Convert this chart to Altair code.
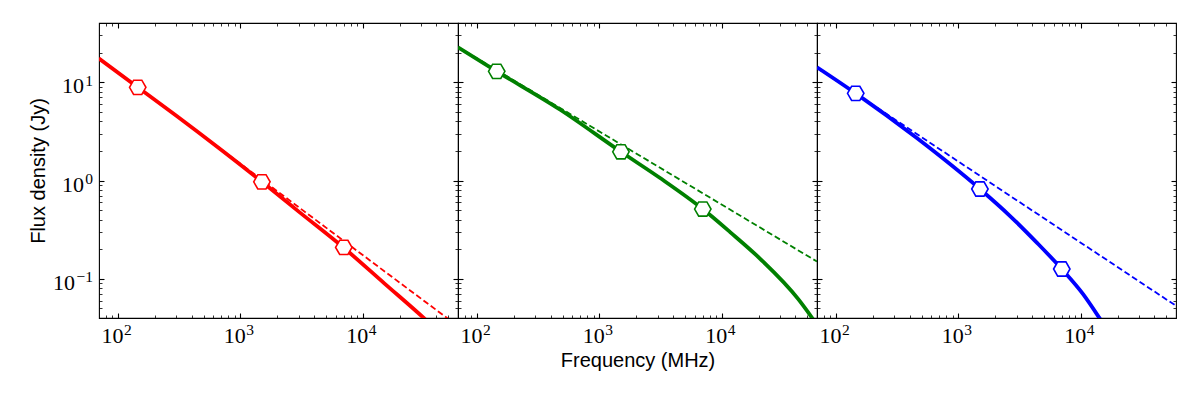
import altair as alt
import pandas as pd

# ---------------- data ----------------
X_DOMAIN = [70, 60000]
Y_DOMAIN = [0.04, 40]

XTICK_MAJOR = [100, 1000, 10000]
XTICK_EXPONENTS = ["2", "3", "4"]
XTICK_MINOR = [80, 90, 200, 300, 400, 500, 600, 700, 800, 900,
               2000, 3000, 4000, 5000, 6000, 7000, 8000, 9000,
               20000, 30000, 40000, 50000]
YTICK_MAJOR = [0.1, 1, 10]
YTICK_EXPONENTS = ["−1", "0", "1"]
YTICK_MINOR = [0.05, 0.06, 0.07, 0.08, 0.09,
               0.2, 0.3, 0.4, 0.5, 0.6, 0.7, 0.8, 0.9,
               2, 3, 4, 5, 6, 7, 8, 9, 20, 30]
TICK_BASE = "10"

FREQ_OBS = [145, 1500, 7000]
FLUX_OBS_RED = [8.87, 0.97, 0.209]
FLUX_OBS_GREEN = [12.9, 1.96, 0.513]
FLUX_OBS_BLUE = [7.7, 0.82, 0.126]

FREQ_PL = [70, 60000]
FLUX_PL_RED = [17.6, 0.033]
FLUX_PL_GREEN = [22.8, 0.150]
FLUX_PL_BLUE = [14.0, 0.0532]

FREQ_FIT_RED = [70, 145, 300, 700, 1500, 3000, 7000, 15000, 31500, 45000]
FLUX_FIT_RED = [17.4, 8.87, 4.55, 2.04, 0.97, 0.483, 0.207, 0.090, 0.040, 0.0265]
FREQ_FIT_GREEN = [70, 145, 479, 1500, 3135, 7000, 11700, 20600, 42200, 54800, 60000]
FLUX_FIT_GREEN = [22.6, 12.9, 5.25, 1.96, 1.06, 0.513, 0.299, 0.160, 0.0622, 0.040, 0.034]
FREQ_FIT_BLUE = [70, 145, 458, 1500, 2634, 4355, 7000, 10450, 14100, 17300]
FLUX_FIT_BLUE = [14.2, 7.7, 2.70, 0.82, 0.438, 0.235, 0.126, 0.070, 0.0406, 0.0273]

COLORS = ["#ff0000", "#008000", "#0000ff"]

# ---------------- helpers ----------------
HEX = "M-1,0L-0.5,-0.866L0.5,-0.866L1,0L0.5,0.866L-0.5,0.866Z"
SERIF = "Liberation Serif"
SANS = "Liberation Sans"
W, H = 359, 295
BASE_SIZE = 22
EXP_SIZE = 15.5

X_ALL = sorted(XTICK_MAJOR + XTICK_MINOR)
Y_ALL = sorted(YTICK_MAJOR + YTICK_MINOR)


def major_test(vals):
    return "indexof([" + ",".join(repr(v) for v in vals) + "], datum.value) >= 0"


def label_expr(vals, labels):
    s = "''"
    for v, l in zip(vals, labels):
        s = f"datum.value == {v!r} ? '{l}' : " + s
    return s


def tick_axis(orient, values, majors, **extra):
    test = major_test(majors)
    props = dict(
        orient=orient, values=values, domain=False, grid=False,
        tickSize={"condition": {"test": test, "value": -5}, "value": -3},
        tickWidth={"condition": {"test": test, "value": 1.1}, "value": 0.8},
        tickColor="black", title=None, labels=False,
    )
    props.update(extra)
    return alt.Axis(**props)


def bottom_axis(xtitle):
    extra = dict(
        labels=True, labelExpr=label_expr(XTICK_MAJOR, [TICK_BASE] * 3),
        labelFont=SERIF, labelFontSize=BASE_SIZE, labelColor="black",
        labelBaseline="alphabetic", labelPadding=29, labelOffset=-6,
        labelFlush=False, labelOverlap=False,
    )
    if xtitle:
        extra.update(title=xtitle, titleFont=SANS, titleFontSize=20,
                     titleFontWeight="normal", titleColor="black",
                     titleX=W / 2, titleY=48, titleBaseline="alphabetic",
                     titleAlign="center")
    return tick_axis("bottom", X_ALL, XTICK_MAJOR, **extra)


def left_axis(show):
    extra = {}
    if show:
        extra = dict(
            labels=True, labelExpr=label_expr(YTICK_MAJOR, [TICK_BASE] * 3),
            labelFont=SERIF, labelFontSize=BASE_SIZE, labelColor="black",
            labelBaseline="alphabetic", labelOffset=10.5,
            labelPadding={"condition": {"test": "datum.value < 0.5", "value": 29.5},
                          "value": 20.5},
            labelFlush=False, labelOverlap=False,
            title="Flux density (Jy)", titleFont=SANS, titleFontSize=20,
            titleFontWeight="normal", titleColor="black",
            titleX=-55, titleY=H / 2, titleAngle=270,
            titleBaseline="alphabetic", titleAlign="center",
        )
    return tick_axis("left", Y_ALL, YTICK_MAJOR, **extra)


def exp_x_axis():
    return alt.Axis(
        orient="bottom", values=XTICK_MAJOR, domain=False, grid=False,
        ticks=False, tickSize=0, title=None,
        labelExpr=label_expr(XTICK_MAJOR, XTICK_EXPONENTS),
        labelFont=SERIF, labelFontSize=EXP_SIZE, labelColor="black",
        labelAlign="left", labelBaseline="alphabetic", labelPadding=16.5,
        labelOffset=5.5, labelFlush=False, labelOverlap=False,
    )


def exp_y_axis():
    return alt.Axis(
        orient="left", values=YTICK_MAJOR, domain=False, grid=False,
        ticks=False, tickSize=0, title=None,
        labelExpr=label_expr(YTICK_MAJOR, YTICK_EXPONENTS),
        labelFont=SERIF, labelFontSize=EXP_SIZE, labelColor="black",
        labelAlign="right", labelBaseline="alphabetic", labelPadding=6.6,
        labelOffset=3, labelFlush=False, labelOverlap=False,
    )


def panel(color, obs_flux, pl_flux, fit_freq, fit_flux, show_y, xtitle):
    xs = alt.Scale(type="log", domain=X_DOMAIN)
    ys = alt.Scale(type="log", domain=Y_DOMAIN)
    df_obs = pd.DataFrame({"freq": FREQ_OBS, "flux": obs_flux})
    df_pl = pd.DataFrame({"freq": FREQ_PL, "flux": pl_flux})
    df_fit = pd.DataFrame({"freq": fit_freq, "flux": fit_flux})

    dashed = alt.Chart(df_pl).mark_line(
        color=color, strokeDash=[6, 3], strokeWidth=1.8, clip=True
    ).encode(
        x=alt.X("freq:Q", scale=xs, axis=bottom_axis(xtitle)),
        y=alt.Y("flux:Q", scale=ys, axis=left_axis(show_y)),
    )
    solid = alt.Chart(df_fit).mark_line(
        color=color, strokeWidth=3.8, interpolate="monotone", clip=True
    ).encode(
        x=alt.X("freq:Q", scale=xs, axis=tick_axis("top", X_ALL, XTICK_MAJOR)),
        y=alt.Y("flux:Q", scale=ys, axis=tick_axis("right", Y_ALL, YTICK_MAJOR)),
    )
    pts = alt.Chart(df_obs).mark_point(
        shape=HEX, filled=True, fill="white", stroke=color,
        strokeWidth=1.6, size=270, opacity=1
    ).encode(
        x=alt.X("freq:Q", scale=xs, axis=exp_x_axis()),
        y=alt.Y("flux:Q", scale=ys, axis=exp_y_axis() if show_y else None),
    )
    return alt.layer(dashed, solid, pts).resolve_axis(
        x="independent", y="independent"
    ).properties(width=W, height=H)


p1 = panel(COLORS[0], FLUX_OBS_RED, FLUX_PL_RED, FREQ_FIT_RED, FLUX_FIT_RED, True, None)
p2 = panel(COLORS[1], FLUX_OBS_GREEN, FLUX_PL_GREEN, FREQ_FIT_GREEN, FLUX_FIT_GREEN, False,
           "Frequency (MHz)")
p3 = panel(COLORS[2], FLUX_OBS_BLUE, FLUX_PL_BLUE, FREQ_FIT_BLUE, FLUX_FIT_BLUE, False, None)

chart = alt.hconcat(p1, p2, p3, spacing=0, bounds="flush").properties(
    padding={"left": 19, "top": 13, "right": 5, "bottom": 5},
    background="white",
).configure_view(stroke="black", strokeWidth=1.1)

chart.save("out.html", embed_options={"renderer": "svg", "actions": False})
